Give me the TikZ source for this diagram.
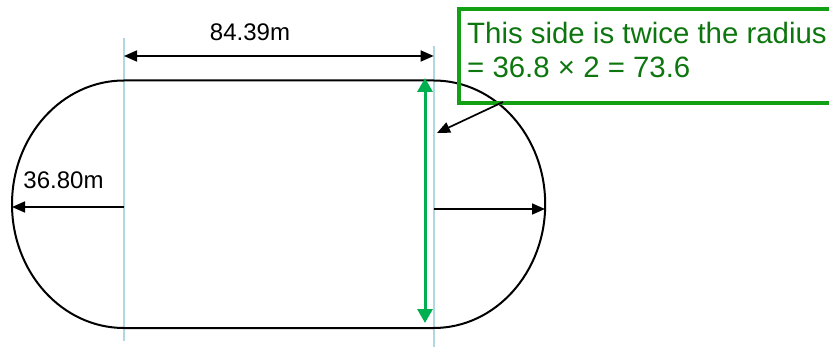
\documentclass[tikz,border=0pt]{standalone}
\usepackage{fontspec}
\setmainfont{Liberation Sans}
\usetikzlibrary{arrows.meta, positioning}
\definecolor{mGuideBlue}{HTML}{B0D8E2}
\definecolor{mArrowGreen}{HTML}{00B050}
\definecolor{mBoxGreen}{HTML}{14A014}
\definecolor{mTextGreen}{HTML}{0E760E}

\begin{document}
\begin{tikzpicture}[x=1pt, y=-1pt,
      dim/.style={draw=black, line width=1.7pt, -{Triangle[length=13pt, width=11pt]}},
      guide/.style={draw=mGuideBlue, line width=1.8pt},
      track/.style={draw=black, line width=2pt},
      twice/.style={draw=mArrowGreen, line width=3pt, {Triangle[length=14pt, width=15pt]}-{Triangle[length=14pt, width=15pt]}},
      lbl/.style={font=\fontsize{24}{28}\selectfont, inner sep=0pt, anchor=base},
      notebox/.style={draw=mBoxGreen, line width=4pt, anchor=north west, minimum width=403pt, minimum height=94.5pt, inner sep=0pt},
      notetext/.style={text=mTextGreen, font=\fontsize{29.4}{34}\selectfont, align=left, anchor=north west, inner sep=0pt}]
    \clip (0,0) rectangle (829,347);
    \coordinate (tl) at (124,80.5);
    \coordinate (tr) at (433.7,80.5);
    \coordinate (br) at (433.7,328);
    \coordinate (bl) at (124,328);
    % guide lines
    \draw[guide] (124,38) -- (124,341);
    \draw[guide] (433.7,46) -- (433.7,350);
    % track
    \draw[track] (tl) -- (tr) arc[start angle=-90, end angle=90, x radius=111.5, y radius=123.75]
      -- (bl) arc[start angle=90, end angle=270, x radius=112, y radius=123.75] -- cycle;
    % dimensions
    \coordinate (dimL) at (124,56);
    \coordinate (dimR) at (433.7,56);
    \draw[dim, {Triangle[length=13pt, width=11pt]}-{Triangle[length=13pt, width=11pt]}] (dimL) -- (dimR);
    \node[lbl] (length) at (250,41) {84.39m};
    \coordinate (radLfrom) at (124,207);
    \coordinate (radLto) at (12,207);
    \draw[dim] (radLfrom) -- (radLto);
    \node[lbl] (radius) at (63.5,189) {36.80m};
    \coordinate (radRfrom) at (433.7,209);
    \coordinate (radRto) at (545,209);
    \draw[dim] (radRfrom) -- (radRto);
    \coordinate (sideTop) at (425,78);
    \coordinate (sideBot) at (425,323);
    \draw[twice] (sideTop) -- (sideBot);
    % callout
    \node[notebox] (note) at (457,7) {};
    \node[notetext] (notetxt) at (467,21.5) {This side is twice the radius\\= 36.8 × 2 = 73.6};
    \coordinate (noteFoot) at (503,102);
    \coordinate (aim) at (437,133);
    \draw[dim] (noteFoot) -- (aim);
  \end{tikzpicture}
\end{document}
